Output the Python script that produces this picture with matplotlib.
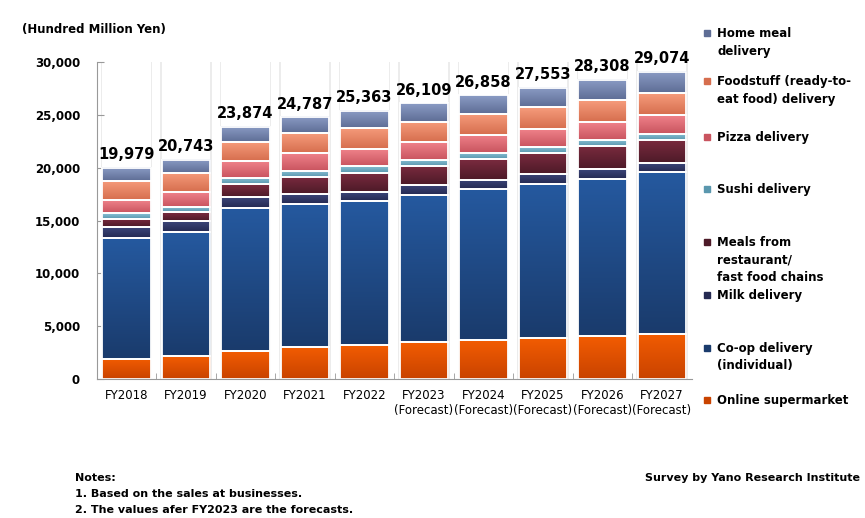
import numpy as np
import matplotlib.pyplot as plt
from matplotlib.colors import LinearSegmentedColormap
from matplotlib.patches import Rectangle

plt.rcParams['font.family'] = ['DejaVu Sans']

years = ['FY2018', 'FY2019', 'FY2020', 'FY2021', 'FY2022',
         'FY2023\n(Forecast)', 'FY2024\n(Forecast)', 'FY2025\n(Forecast)',
         'FY2026\n(Forecast)', 'FY2027\n(Forecast)']
totals = [19979, 20743, 23874, 24787, 25363, 26109, 26858, 27553, 28308, 29074]

# segments, bottom to top (hundred million yen)
online = [1920, 2150, 2620, 3000, 3190, 3470, 3660, 3850, 4040, 4260]
coop = [11390, 11730, 13530, 13560, 13620, 13910, 14290, 14570, 14910, 15300]
milk = [1040, 1040, 1040, 920, 850, 980, 880, 950, 920, 850]
meals = [785, 850, 1230, 1610, 1800, 1800, 1960, 1990, 2180, 2200]
sushi = [540, 530, 625, 625, 690, 570, 570, 570, 570, 570]
pizza = [1230, 1360, 1560, 1700, 1580, 1700, 1730, 1700, 1700, 1770]
foodstuff = [1800, 1800, 1850, 1835, 1990, 1920, 1990, 2080, 2080, 2080]
home_meal = [1270, 1280, 1420, 1540, 1640, 1760, 1780, 1840, 1910, 2040]

series = [online, coop, milk, meals, sushi, pizza, foodstuff, home_meal]
names = ['Online supermarket', 'Co-op delivery\n(individual)', 'Milk delivery',
         'Meals from\nrestaurant/\nfast food chains', 'Sushi delivery',
         'Pizza delivery', 'Foodstuff (ready-to-\neat food) delivery',
         'Home meal\ndelivery']
# (top, bottom) gradient colours
grads = [('#f25c02', '#c94300'), ('#25599f', '#1a3b6c'), ('#3b4579', '#252a52'),
         ('#7b2b3f', '#4d1a28'), ('#8ac2d6', '#5a97ae'), ('#ef828a', '#c9545f'),
         ('#f69c7c', '#d66e4e'), ('#8b9cc5', '#5e6d95')]
legend_y = [400, 348, 295, 242, 189, 137, 81, 33]

fig = plt.figure(figsize=(8.65, 5.18), dpi=100)
ax = fig.add_axes([0.1118, 0.2683, 0.6879, 0.612])

x = np.arange(len(years))
w = 0.82

# faint grey shading along the bar edges, full height
ax.bar(x, [30000] * len(x), width=w + 0.05, color='#ececec', zorder=1)
ax.bar(x, [30000] * len(x), width=w, color='white', zorder=1.2)

bottom = np.zeros(len(years))
for vals, (ctop, cbot) in zip(series, grads):
    cmap = LinearSegmentedColormap.from_list('g', [cbot, ctop])
    bars = ax.bar(x, vals, width=w, bottom=bottom, color=ctop, zorder=2)
    for b in bars:
        bx, by = b.get_x(), b.get_y()
        ax.imshow(np.linspace(0, 1, 64).reshape(-1, 1), cmap=cmap, origin='lower',
                  extent=[bx, bx + b.get_width(), by, by + b.get_height()],
                  aspect='auto', zorder=2.5, interpolation='bicubic')
    ax.bar(x, vals, width=w, bottom=bottom, fill=False, edgecolor='white',
           linewidth=1.3, zorder=3)
    bottom += np.array(vals)

for i, t in enumerate(totals):
    ax.annotate(f'{t:,}', (x[i], t), xytext=(0, 4), textcoords='offset points',
                ha='center', va='bottom', fontsize=10.5, fontweight='bold', zorder=4)

ax.set_xlim(-0.5, len(years) - 0.5)
ax.set_ylim(0, 30000)
ax.set_yticks(range(0, 30001, 5000))
ax.set_yticklabels([f'{v:,}' for v in range(0, 30001, 5000)],
                   fontsize=8.5, fontweight='bold')
ax.set_xticks(x)
ax.set_xticklabels(years, fontsize=8.5, linespacing=1.25,
                   family=['Liberation Sans Narrow', 'DejaVu Sans Condensed', 'DejaVu Sans'])
ax.set_xticks(np.arange(0.5, len(years) - 0.5), minor=True)
ax.tick_params(axis='x', which='major', length=0, pad=7)
ax.tick_params(axis='x', which='minor', length=4, direction='in', color='#999999')
ax.tick_params(axis='y', length=5, direction='in', color='#999999', pad=12)
for s in ['top', 'right']:
    ax.spines[s].set_visible(False)
for s in ['left', 'bottom']:
    ax.spines[s].set_color('#999999')
    ax.spines[s].set_zorder(5)

# legend on the right
H = 518.0
for name, (ctop, cbot), ly in zip(names, grads, legend_y):
    fig.patches.append(Rectangle((704 / 865, (H - ly - 3) / H), 6 / 865, 6 / H,
                                 transform=fig.transFigure, color=cbot))
    fig.text(717 / 865, (H - ly + 6) / H, name, ha='left', va='top',
             fontsize=8.5, fontweight='bold', linespacing=1.45)

fig.text(22 / 865, (H - 30) / H, '(Hundred Million Yen)', fontsize=8.5,
         fontweight='bold', va='center')
fig.text(75 / 865, (H - 478) / H, 'Notes:', fontsize=8, fontweight='bold', va='center')
fig.text(75 / 865, (H - 494) / H, '1. Based on the sales at businesses.',
         fontsize=8, fontweight='bold', va='center')
fig.text(75 / 865, (H - 510) / H, '2. The values afer FY2023 are the forecasts.',
         fontsize=8, fontweight='bold', va='center')
fig.text(860 / 865, (H - 478) / H, 'Survey by Yano Research Institute',
         fontsize=8, fontweight='bold', va='center', ha='right')

fig.savefig('out.png', dpi=100)
